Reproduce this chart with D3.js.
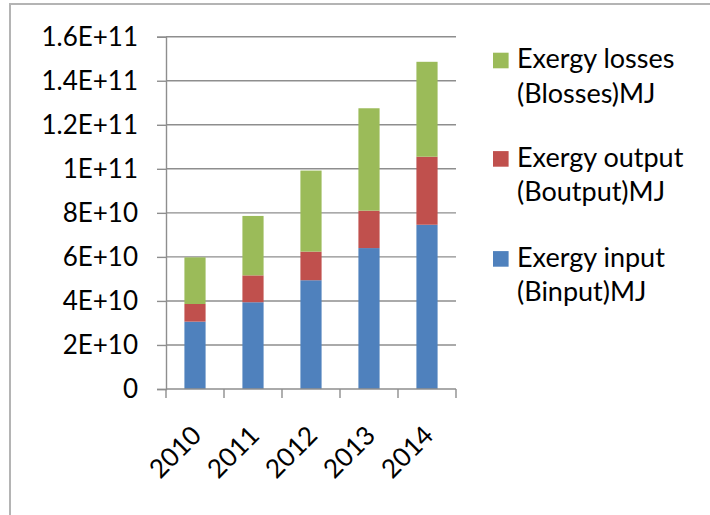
<!DOCTYPE html>
<html>
<head>
<meta charset="utf-8">
<script src="https://cdn.jsdelivr.net/npm/d3@7"></script>
<style>
  html, body { margin: 0; padding: 0; background: #fff; }
  svg { display: block; font-family: Lato, "Open Sans", sans-serif; }
</style>
</head>
<body>
<svg id="chart" width="710" height="515"></svg>
<script>
// Exergy balance per year (MJ), stacked bottom to top
const years = ["2010", "2011", "2012", "2013", "2014"];
const exergyInput  = [3.06e10, 3.94e10, 4.94e10, 6.40e10, 7.46e10];
const exergyOutput = [0.80e10, 1.22e10, 1.30e10, 1.70e10, 3.09e10];
const exergyLosses = [2.12e10, 2.70e10, 3.68e10, 4.65e10, 4.31e10];
const yTicks = [0, 2e10, 4e10, 6e10, 8e10, 1e11, 1.2e11, 1.4e11, 1.6e11];
const yTickLabels = ["0", "2E+10", "4E+10", "6E+10", "8E+10", "1E+11", "1.2E+11", "1.4E+11", "1.6E+11"];
const seriesKeys = ["input", "output", "losses"];
const seriesNames = {
  input:  ["Exergy input", "(Binput)MJ"],
  output: ["Exergy output", "(Boutput)MJ"],
  losses: ["Exergy losses", "(Blosses)MJ"]
};
const colors = { input: "#4F81BD", output: "#C0504D", losses: "#9BBB59" };

const rows = years.map((y, i) => ({
  year: y, input: exergyInput[i], output: exergyOutput[i], losses: exergyLosses[i]
}));

const svg = d3.select("#chart");
const plot = { left: 166, right: 456, top: 36.7, bottom: 389 };
const fontSize = 26;
const legendFontSize = 27;
const gridColor = "#8e8e8e";

// outer chart frame (continues past the right and bottom edges)
svg.append("rect")
  .attr("x", 10).attr("y", 4)
  .attr("width", 760).attr("height", 560)
  .attr("fill", "none").attr("stroke", "#b4b4b4").attr("stroke-width", 2);

const x = d3.scaleBand().domain(years).range([plot.left, plot.right])
  .paddingInner(0.635).paddingOuter(0.3175);
const xCat = d3.scaleBand().domain(years).range([plot.left, plot.right]).padding(0);
const y = d3.scaleLinear().domain([0, 1.6e11]).range([plot.bottom, plot.top]);

// horizontal gridlines
svg.append("g").selectAll("line").data(yTicks.slice(1)).join("line")
  .attr("x1", plot.left).attr("x2", plot.right)
  .attr("y1", d => y(d)).attr("y2", d => y(d))
  .attr("stroke", gridColor).attr("stroke-width", 1.4);

// y axis
const yAxis = d3.axisLeft(y).tickValues(yTicks)
  .tickFormat((d, i) => yTickLabels[i]).tickSize(9).tickPadding(19);
const gy = svg.append("g").attr("transform", `translate(${plot.left},0)`).call(yAxis);
gy.select(".domain").attr("stroke", gridColor).attr("stroke-width", 1.4);
gy.selectAll(".tick line").attr("stroke", gridColor).attr("stroke-width", 1.4);
gy.selectAll(".tick text").attr("fill", "#000").style("font-size", fontSize + "px")
  .style("font-family", "Lato, 'Open Sans', sans-serif");

// stacked bars
const stack = d3.stack().keys(seriesKeys)(rows);
svg.append("g").selectAll("g").data(stack).join("g")
  .attr("fill", d => colors[d.key])
  .selectAll("rect").data(d => d).join("rect")
  .attr("x", d => x(d.data.year))
  .attr("width", x.bandwidth())
  .attr("y", d => y(d[1]))
  .attr("height", d => y(d[0]) - y(d[1]));

// x axis: line with tick marks between categories
const boundaries = years.map(d => xCat(d)).concat([plot.right]);
const gx = svg.append("g");
gx.append("line").attr("x1", plot.left).attr("x2", plot.right)
  .attr("y1", plot.bottom).attr("y2", plot.bottom)
  .attr("stroke", gridColor).attr("stroke-width", 1.4);
gx.selectAll("line.tk").data(boundaries).join("line").attr("class", "tk")
  .attr("x1", d => d).attr("x2", d => d)
  .attr("y1", plot.bottom).attr("y2", plot.bottom + 9)
  .attr("stroke", gridColor).attr("stroke-width", 1.4);

// rotated year labels
gx.selectAll("text").data(years).join("text")
  .attr("transform", d => `translate(${xCat(d) + xCat.bandwidth() / 2 + 8},${plot.bottom + 48}) rotate(-45)`)
  .attr("text-anchor", "end")
  .style("font-size", fontSize + "px")
  .attr("fill", "#000")
  .text(d => d);

// legend, top to bottom: losses, output, input
const legendKeys = ["losses", "output", "input"];
const legendBase = [68.3, 166.7, 266.7];
const lg = svg.append("g").selectAll("g").data(legendKeys).join("g")
  .attr("transform", (d, i) => `translate(493,${legendBase[i]})`);
lg.append("rect").attr("x", 0).attr("y", -15.6).attr("width", 15.6).attr("height", 15.6)
  .attr("fill", d => colors[d]);
lg.append("text").attr("x", 24).attr("y", 0)
  .style("font-size", legendFontSize + "px").attr("fill", "#000")
  .selectAll("tspan").data(d => seriesNames[d]).join("tspan")
  .attr("x", 24).attr("dy", (d, i) => i === 0 ? 0 : 34.5)
  .text(d => d);
</script>
</body>
</html>
